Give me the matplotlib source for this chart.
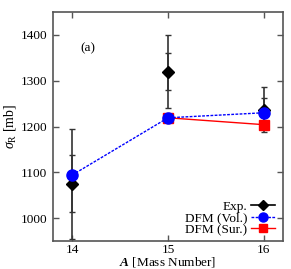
import matplotlib
matplotlib.use("Agg")
import matplotlib.pyplot as plt
from matplotlib.lines import Line2D

plt.rcParams['font.family'] = ['Liberation Serif', 'DejaVu Serif']
plt.rcParams['mathtext.fontset'] = 'custom'
plt.rcParams['mathtext.rm'] = 'Liberation Serif'
plt.rcParams['mathtext.it'] = 'Liberation Serif:italic'
plt.rcParams['mathtext.bf'] = 'Liberation Serif:style=italic:weight=bold'

mass = [14, 15, 16]
exp_val = [1075, 1320, 1237]
exp_err_outer = [120, 80, 50]
exp_err_inner = [62, 40, 25]
vol_mass = [14, 15, 16]
vol_val = [1094, 1219, 1230]
sur_mass = [15, 16]
sur_val = [1219, 1204]
xticks = [14, 15, 16]
yticks = [1000, 1100, 1200, 1300, 1400]

fig = plt.figure(figsize=(2.91, 2.69), dpi=100)
ax = fig.add_axes([53/291, 1-241/269, 230/291, 229/269])

ax.errorbar(mass, exp_val, yerr=exp_err_outer, fmt='none', ecolor='#333333',
            elinewidth=1.2, capsize=2.5, capthick=1.0, zorder=2)
ax.errorbar(mass, exp_val, yerr=exp_err_inner, fmt='none', ecolor='#333333',
            elinewidth=1.2, capsize=2.5, capthick=1.0, zorder=2)
ax.plot(mass, exp_val, linestyle='none', marker='D', color='black', markersize=6, zorder=3)
ax.plot(sur_mass, sur_val, color='red', linestyle='-', linewidth=1.0, marker='s',
        markersize=7, zorder=4)
ax.plot(vol_mass, vol_val, color='blue', linestyle=(0, (2, 1)), linewidth=1.0, marker='o',
        markersize=8, zorder=5)

ax.set_xlim(13.8, 16.2)
ax.set_ylim(950, 1450)
ax.set_xticks(xticks)
ax.set_yticks(yticks)
ax.tick_params(direction='in', top=True, right=True, length=4, width=1.0,
               labelsize=9.5, color='#555555')
ax.tick_params(axis='x', pad=2.5)
ax.tick_params(axis='y', pad=4)
for s in ax.spines.values():
    s.set_color('#555555')
    s.set_linewidth(1.2)

ax.set_ylabel(r'$\sigma_{\rm R}$ [mb]', fontsize=10)
ax.yaxis.set_label_coords(-0.187, 0.5)
ax.set_xlabel(r'$\mathbf{A}$ [Mass Number]', fontsize=9.5)
ax.xaxis.set_label_coords(0.5, -0.093)
ax.xaxis.label.set_verticalalignment('center')
ax.yaxis.label.set_verticalalignment('center')
ax.text(0.12, 0.83, '(a)', transform=ax.transAxes, fontsize=9.5)

handles = [
    Line2D([], [], color='black', marker='D', markersize=5.5, linewidth=1.2),
    Line2D([], [], color='blue', linestyle=(0, (2, 1)), marker='o', markersize=6.5, linewidth=1.0),
    Line2D([], [], color='red', marker='s', markersize=6, linewidth=1.0),
]
ax.legend(handles, ['Exp.', 'DFM (Vol.)', 'DFM (Sur.)'], loc='lower right',
          bbox_to_anchor=(1.0, -3/229), frameon=False, markerfirst=False,
          fontsize=9.5, handlelength=1.8, handletextpad=0.3, labelspacing=-0.05,
          borderaxespad=0.2, borderpad=0.4)

fig.savefig('out.png', dpi=100)
